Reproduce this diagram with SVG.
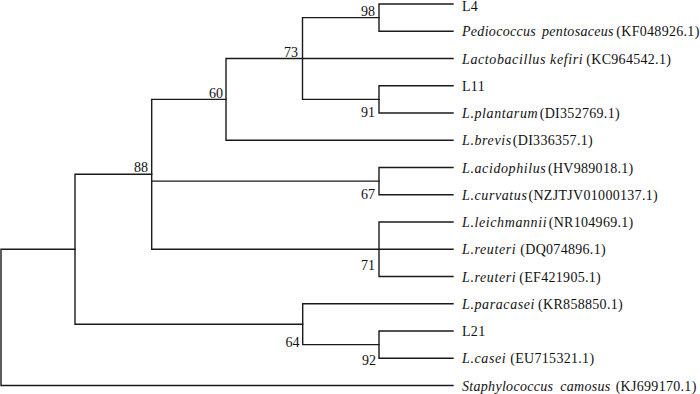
<svg xmlns="http://www.w3.org/2000/svg" width="700" height="394" viewBox="0 0 700 394">
<style>
.br{fill:none;stroke:#1a1a1a;stroke-width:1.4;stroke-linecap:square}
text{font-family:"Liberation Serif","Times New Roman",serif;font-size:14px;fill:#111}
.bs{text-anchor:end}
.lf{letter-spacing:0.3px}
.it{font-style:italic;letter-spacing:0.6px}
.it2{font-style:italic;letter-spacing:0.3px}
</style>
<rect width="700" height="394" fill="#fff"/>
<g id="connectors" class="br">
<path d="M1,249.25V385.5M1,249.25H75M1,385.5H453"/>
<path d="M75,174.3V324.2M75,174.3H151.7M75,324.2H302.7"/>
<path d="M151.7,99.4V249.25M151.7,99.4H226M151.7,181.1H379M151.7,249.25H379"/>
<path d="M226,58.5V140.25M226,58.5H302.5M226,140.25H453"/>
<path d="M302.5,17.6V99.4M302.5,17.6H379M302.5,58.5H453M302.5,99.4H379"/>
<path d="M379,4V31.25M379,4H453M379,31.25H453"/>
<path d="M379,85.75V113M379,85.75H453M379,113H453"/>
<path d="M379,167.5V194.75M379,167.5H453M379,194.75H453"/>
<path d="M379,222V276.5M379,222H453M379,249.25H453M379,276.5H453"/>
<path d="M302.7,303.75V344.6M302.7,303.75H453M302.7,344.6H379"/>
<path d="M379,331V358.25M379,331H453M379,358.25H453"/>
</g>
<g id="support">
<g id="n98"><text class="bs" x="375" y="15.5">98</text></g>
<g id="n73"><text class="bs" x="298" y="57">73</text></g>
<g id="n91"><text class="bs" x="375" y="117">91</text></g>
<g id="n60"><text class="bs" x="223" y="97.5">60</text></g>
<g id="n88"><text class="bs" x="148" y="172">88</text></g>
<g id="n67"><text class="bs" x="375" y="198.5">67</text></g>
<g id="n71"><text class="bs" x="375" y="270">71</text></g>
<g id="n64"><text class="bs" x="299.5" y="347">64</text></g>
<g id="n92"><text class="bs" x="376" y="365">92</text></g>
</g>
<g id="leaves">
<g id="leaf-L4"><text class="lf" x="462" y="10.5">L4</text></g>
<g id="leaf-pediococcus"><text class="lf" x="462" y="36.25"><tspan class="it2">Pediococcus</tspan><tspan class="it2" dx="6">pentosaceus</tspan><tspan dx="2.5">(KF048926.1)</tspan></text></g>
<g id="leaf-kefiri"><text class="lf" x="462" y="63.5"><tspan class="it">Lactobacillus kefiri</tspan><tspan dx="3">(KC964542.1)</tspan></text></g>
<g id="leaf-L11"><text class="lf" x="462" y="90.75">L11</text></g>
<g id="leaf-plantarum"><text class="lf" x="462" y="118"><tspan class="it">L.plantarum</tspan><tspan dx="1.5">(DI352769.1)</tspan></text></g>
<g id="leaf-brevis"><text class="lf" x="462" y="145.25"><tspan class="it">L.brevis</tspan><tspan dx="1">(DI336357.1)</tspan></text></g>
<g id="leaf-acidophilus"><text class="lf" x="462" y="172.5"><tspan class="it">L.acidophilus</tspan><tspan dx="1.5">(HV989018.1)</tspan></text></g>
<g id="leaf-curvatus"><text class="lf" x="462" y="199.75"><tspan class="it">L.curvatus</tspan><tspan dx="1">(NZJTJV01000137.1)</tspan></text></g>
<g id="leaf-leichmannii"><text class="lf" x="462" y="227"><tspan class="it">L.leichmannii</tspan><tspan dx="1.5">(NR104969.1)</tspan></text></g>
<g id="leaf-reuteri1"><text class="lf" x="462" y="254.25"><tspan class="it">L.reuteri</tspan><tspan dx="4">(DQ074896.1)</tspan></text></g>
<g id="leaf-reuteri2"><text class="lf" x="462" y="281.5"><tspan class="it">L.reuteri</tspan><tspan dx="3">(EF421905.1)</tspan></text></g>
<g id="leaf-paracasei"><text class="lf" x="462" y="308.75"><tspan class="it">L.paracasei</tspan><tspan dx="3">(KR858850.1)</tspan></text></g>
<g id="leaf-L21"><text class="lf" x="462" y="336">L21</text></g>
<g id="leaf-casei"><text class="lf" x="462" y="363.25"><tspan class="it">L.casei</tspan><tspan dx="4">(EU715321.1)</tspan></text></g>
<g id="leaf-staphylococcus"><text class="lf" x="462" y="390.5"><tspan class="it2">Staphylococcus</tspan><tspan class="it2" dx="7">camosus</tspan><tspan dx="5">(KJ699170.1)</tspan></text></g>
</g>
</svg>
